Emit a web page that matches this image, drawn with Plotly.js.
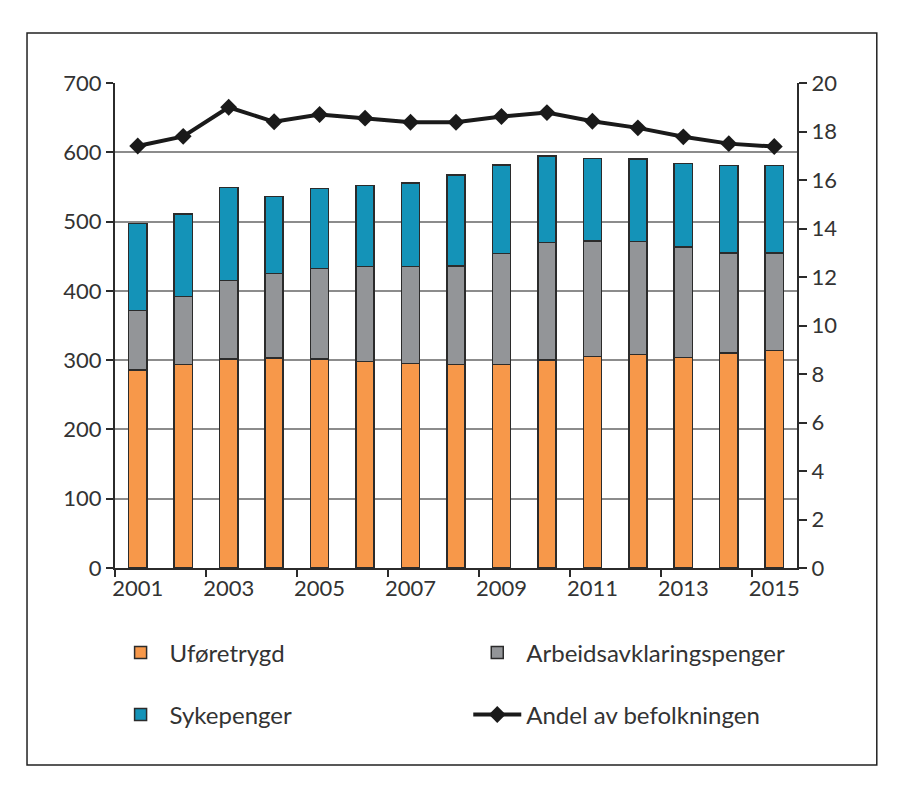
<!DOCTYPE html>
<html>
<head>
<meta charset="utf-8">
<script src="https://cdn.plot.ly/plotly-3.0.1.min.js"></script>
<style>
  html, body { margin: 0; padding: 0; background: #ffffff; }
  #chart { width: 900px; height: 785px; }
</style>
</head>
<body>
<div id="chart"></div>
<script>
// Years and series (thousands of persons, left axis; share in %, right axis)
const years = [2001, 2002, 2003, 2004, 2005, 2006, 2007, 2008, 2009, 2010, 2011, 2012, 2013, 2014, 2015];
const uforetrygd = [286, 294, 302, 303, 302, 298, 295, 294, 294, 300, 305, 308, 304, 310, 314];
const arbeidsavklaring = [86, 98, 113, 122, 130, 137, 140, 142, 160, 170, 167, 163, 159, 145, 141];
const sykepenger = [125, 119, 134, 111, 116, 117, 121, 131, 128, 125, 119, 119, 121, 126, 126];
const andel = [17.4, 17.8, 19.0, 18.4, 18.7, 18.55, 18.38, 18.38, 18.62, 18.78, 18.42, 18.15, 17.78, 17.5, 17.38];

const Theme = {
    orange: '#f7984a',
    gray: '#939598',
    blue: '#1493b8',
    outline: '#2b2b2b',
    line: '#1a1a1a',
    text: '#333333',
    grid: '#8c8c8c'
};

const fontFamily = 'Lato, "Open Sans", sans-serif';

function barTrace(name, values, color, legend) {
    return {
        type: 'bar',
        name: name,
        x: years,
        y: values,
        width: 0.4,
        marker: { color: color, line: { color: Theme.outline, width: 1.5 } },
        legend: legend,
        hoverinfo: 'skip'
    };
}

const traces = [
    barTrace('Uføretrygd', uforetrygd, Theme.orange, 'legend'),
    barTrace('Arbeidsavklaringspenger', arbeidsavklaring, Theme.gray, 'legend2'),
    barTrace('Sykepenger', sykepenger, Theme.blue, 'legend3'),
    {
        type: 'scatter',
        mode: 'lines+markers',
        name: 'Andel av befolkningen',
        x: years,
        y: andel,
        yaxis: 'y2',
        line: { color: Theme.line, width: 4 },
        marker: { symbol: 'diamond', size: 13, color: Theme.line },
        legend: 'legend4',
        hoverinfo: 'skip'
    }
];

// one legend per entry; positions in plot-area fractions (plot area 115..797 x 83..568)
function legendAt(x, y) {
    return {
        orientation: 'h',
        xanchor: 'left',
        yanchor: 'middle',
        x: x,
        y: y,
        itemwidth: 48,
        font: { family: fontFamily, size: 24, color: Theme.text },
        bgcolor: 'rgba(0,0,0,0)'
    };
}

const layout = {
    width: 900,
    height: 785,
    barmode: 'stack',
    paper_bgcolor: '#ffffff',
    plot_bgcolor: '#ffffff',
    font: { family: fontFamily, size: 22, color: Theme.text },
    margin: { t: 83, b: 217, l: 115, r: 103 },
    showlegend: true,
    legend: legendAt(-0.005, -0.175),
    legend2: legendAt(0.518, -0.175),
    legend3: legendAt(-0.005, -0.303),
    legend4: legendAt(0.518, -0.303),
    xaxis: {
        range: [2000.5, 2015.5],
        tickvals: [2001, 2003, 2005, 2007, 2009, 2011, 2013, 2015],
        ticks: '',
        showgrid: false,
        showline: true,
        linecolor: Theme.outline,
        linewidth: 2,
        zeroline: false,
        tickfont: { family: fontFamily, size: 22, color: Theme.text },
        minor: {
            tick0: 2000.5,
            dtick: 2,
            ticks: 'outside',
            ticklen: 7,
            tickwidth: 1.5,
            tickcolor: Theme.outline,
            showgrid: false
        }
    },
    yaxis: {
        range: [0, 700],
        tickvals: [0, 100, 200, 300, 400, 500, 600, 700],
        ticks: 'outside',
        ticklen: 7,
        tickwidth: 1.5,
        tickcolor: Theme.outline,
        showline: true,
        linecolor: Theme.outline,
        linewidth: 2,
        showgrid: true,
        gridcolor: Theme.grid,
        gridwidth: 1.5,
        zeroline: false,
        tickfont: { family: fontFamily, size: 22, color: Theme.text }
    },
    yaxis2: {
        overlaying: 'y',
        side: 'right',
        range: [0, 20],
        tickvals: [0, 2, 4, 6, 8, 10, 12, 14, 16, 18, 20],
        ticks: 'outside',
        ticklen: 8,
        tickwidth: 1.5,
        tickcolor: Theme.outline,
        showline: true,
        linecolor: Theme.outline,
        linewidth: 2,
        showgrid: false,
        zeroline: false,
        tickfont: { family: fontFamily, size: 22, color: Theme.text }
    },
    shapes: [
        {
            type: 'rect',
            xref: 'paper', yref: 'paper',
            x0: -0.129, x1: 1.117,
            y0: -0.406, y1: 1.103,
            line: { color: '#222222', width: 1.5 },
            fillcolor: 'rgba(0,0,0,0)',
            layer: 'below'
        }
    ]
};

Plotly.newPlot('chart', traces, layout, { displayModeBar: false, responsive: false });
</script>
</body>
</html>
